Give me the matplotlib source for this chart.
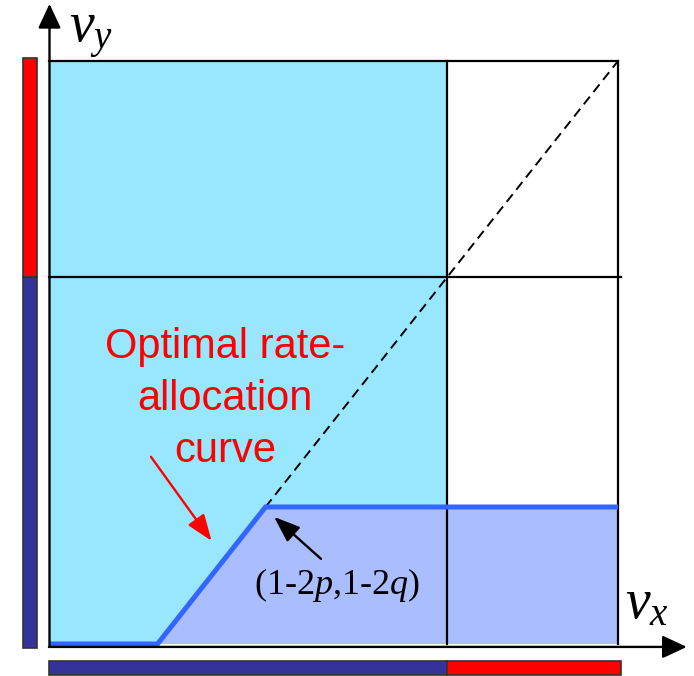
import matplotlib
matplotlib.use("Agg")
import matplotlib.pyplot as plt
from matplotlib.patches import Rectangle, Polygon

# regions in normalised rate units (v_x, v_y in [0, 1])
x_split = 0.70
y_split = 0.63

# optimal rate-allocation curve
curve_vx = [0.0, 0.19, 0.38, 1.0]
curve_vy = [0.0, 0.0, 0.235, 0.235]

# dashed diagonal continuing the rising part of the curve
diag_vx = [0.38, 1.0]
diag_vy = [0.235, 1.0]

curve_label = "Optimal rate-\nallocation\ncurve"
corner_label = "(1-2$p$,1-2$q$)"

light_blue = "#99E6FF"
lavender = "#AABEFF"
curve_blue = "#3366FF"
navy = "#333399"
red = "#FF0000"

plt.rcParams["mathtext.fontset"] = "custom"
plt.rcParams["mathtext.rm"] = "Liberation Serif"
plt.rcParams["mathtext.it"] = "Liberation Serif:italic"

fig = plt.figure(figsize=(6.94, 6.76), dpi=100)
ax = fig.add_axes([0, 0, 1, 1])
# v_x = 0 at 49.5px, 1 at 618px ; v_y = 0 at 644px, 1 at 61px
ax.set_xlim(-49.5 / 568.5, (694 - 49.5) / 568.5)
ax.set_ylim((644 - 676) / 583, 644 / 583)
ax.axis("off")

# shaded regions
ax.add_patch(Rectangle((0, 0), x_split, 1, fc=light_blue, ec="none", zorder=1))
verts = list(zip(curve_vx, curve_vy)) + [(curve_vx[-1], 0.0)]
ax.add_patch(Polygon(verts, closed=True, fc=lavender, ec="none", zorder=2))

# box and split lines
lk = dict(color="black", lw=1.6, zorder=3)
ax.plot([0, 1], [1, 1], **lk)
ax.plot([1, 1], [0, 1], **lk)
ax.plot([x_split, x_split], [0, 1], **lk)
ax.plot([0, 1.006], [y_split, y_split], **lk)

ax.plot(diag_vx, diag_vy, color="black", lw=1.4, ls=(0, (5, 3)), zorder=3)
ax.plot(curve_vx, curve_vy, color=curve_blue, lw=3.6, solid_joinstyle="miter",
        solid_capstyle="butt", zorder=4)


def arrow(color, hw=0.35, hl=0.75):
    return dict(arrowstyle=f"-|>,head_length={hl},head_width={hw}",
                mutation_scale=20, lw=1.7, color=color, shrinkA=0, shrinkB=0)


# axes with arrows
ax.annotate("", xy=(0.0, 1.098), xytext=(0.0, -0.005), arrowprops=arrow("black"), zorder=5)
ax.annotate("", xy=(1.121, -0.005), xytext=(-0.001, -0.005), arrowprops=arrow("black"), zorder=5)

# side bars
bk = dict(ec="#333333", lw=1.2, zorder=2)
ax.add_patch(Rectangle((-0.0466, -0.007), 0.0246, y_split + 0.007, fc=navy, **bk))
ax.add_patch(Rectangle((-0.0466, y_split), 0.0246, 1.005 - y_split, fc=red, **bk))
ax.add_patch(Rectangle((0, -0.053), x_split, 0.024, fc=navy, **bk))
ax.add_patch(Rectangle((x_split, -0.053), 1.005 - x_split, 0.024, fc=red, **bk))

# labels
ax.text(0.034, 1.0326, r"$v_y$", fontsize=40, ha="left", va="baseline")
ax.text(1.012, 0.0446, r"$v_x$", fontsize=40, ha="left", va="baseline")
ax.text(0.309, 0.420, curve_label, color=red, fontsize=30, family="Liberation Sans",
        ha="center", va="center", linespacing=1.38, zorder=6)
ax.text(0.506, 0.101, corner_label, fontsize=26, family="Liberation Serif",
        ha="center", va="center", zorder=6)

ax.annotate("", xy=(0.285, 0.177), xytext=(0.1785, 0.321),
            arrowprops=arrow(red, hw=0.3, hl=0.8), zorder=6)
ax.annotate("", xy=(0.395, 0.218), xytext=(0.4776, 0.146),
            arrowprops=arrow("black", hw=0.3, hl=0.8), zorder=6)

fig.savefig("out.png", dpi=100)
